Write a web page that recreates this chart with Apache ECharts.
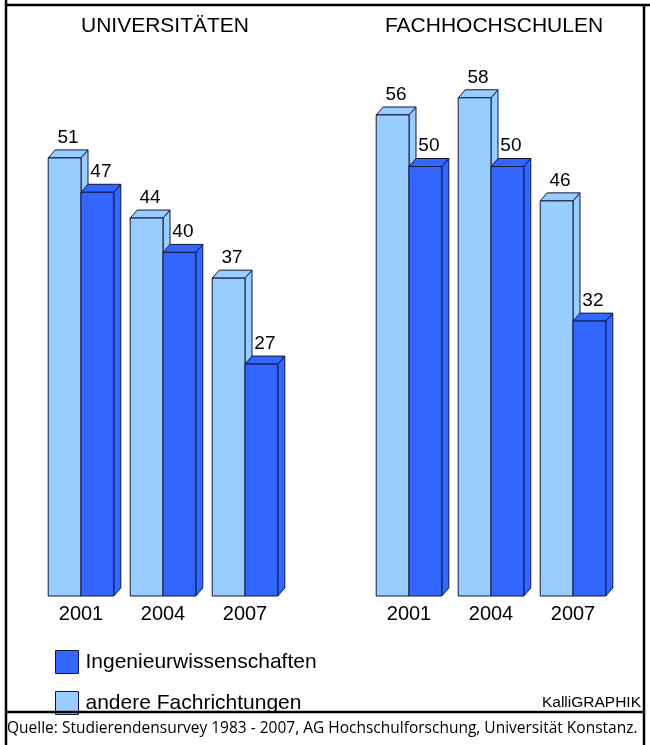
<!DOCTYPE html>
<html lang="de">
<head>
<meta charset="utf-8" />
<title>Universitäten und Fachhochschulen</title>
<script src="https://cdn.jsdelivr.net/npm/echarts@6/dist/echarts.min.js"></script>
<style>
  * { margin: 0; padding: 0; }
  html, body, #chart { width: 650px; height: 745px; overflow: hidden; background: #fff; }
</style>
</head>
<body>
<div id="chart"></div>
<script>
  var years = ["2001", "2004", "2007"];
  var groupTitles = ["UNIVERSITÄTEN", "FACHHOCHSCHULEN"];
  var uniOther = [51, 44, 37];
  var uniEng = [47, 40, 27];
  var fhOther = [56, 58, 46];
  var fhEng = [50, 50, 32];
  var seriesNames = ["Ingenieurwissenschaften", "andere Fachrichtungen"];
  var sourceText = "Quelle: Studierendensurvey 1983 - 2007, AG Hochschulforschung, Universität Konstanz.";
  var credit = "KalliGRAPHIK";

  var LIGHT = "#99ccff", DARK = "#3366ff", EDGE = "#10183a";
  var DX = 7, DY = 8;
  var FONT = '"Liberation Sans", Arial, sans-serif';

  var chart = echarts.init(document.getElementById("chart"));

  // front face + top + right side, value label above the top face
  function bar3d(side, color) {
    return function (params, api) {
      var idx = api.value(0);
      var p = api.coord([idx, api.value(1)]);
      var base = api.coord([idx, 0]);
      var w = api.size([1, 0])[0] * 0.4;
      var x0 = side < 0 ? p[0] - w : p[0];
      var x1 = x0 + w;
      var top = p[1], bot = base[1];
      var st = { fill: color, stroke: EDGE, lineWidth: 1 };
      return {
        type: "group",
        children: [
          { type: "polygon", shape: { points: [[x1, top], [x1 + DX, top - DY], [x1 + DX, bot - DY], [x1, bot]] }, style: st },
          { type: "polygon", shape: { points: [[x0, top], [x0 + DX, top - DY], [x1 + DX, top - DY], [x1, top]] }, style: st },
          { type: "rect", shape: { x: x0, y: top, width: w, height: bot - top }, style: st },
          {
            type: "text",
            x: (x0 + x1) / 2 + DX / 2,
            y: top - DY - 3,
            style: {
              text: String(api.value(1)),
              fill: "#000",
              font: "19px " + FONT,
              align: "center",
              verticalAlign: "bottom"
            }
          }
        ]
      };
    };
  }

  function makeSeries(name, data, gi, side, color, z) {
    return {
      type: "custom",
      name: name,
      xAxisIndex: gi,
      yAxisIndex: gi,
      z: z,
      clip: false,
      itemStyle: { color: color, borderColor: EDGE, borderWidth: 1 },
      renderItem: bar3d(side, color),
      encode: { x: 0, y: 1 },
      data: data.map(function (v, i) { return [i, v]; })
    };
  }

  function xAxisFor(gi) {
    return {
      type: "category",
      gridIndex: gi,
      data: years,
      axisLine: { show: false },
      axisTick: { show: false },
      axisLabel: { fontSize: 20, color: "#000", fontFamily: FONT, margin: 8 }
    };
  }

  function yAxisFor(gi) {
    return { type: "value", gridIndex: gi, min: 0, max: 60, show: false };
  }

  function hline(x1, y1, x2, y2) {
    return {
      type: "line",
      shape: { x1: x1, y1: y1, x2: x2, y2: y2 },
      style: { stroke: "#000", lineWidth: 2.5 },
      z: 10
    };
  }

  function label(x, y, text, size, align, family) {
    return {
      type: "text",
      x: x,
      y: y,
      style: {
        text: text,
        fill: "#000",
        font: size + "px " + (family || FONT),
        align: align,
        verticalAlign: "middle"
      }
    };
  }

  chart.setOption({
    animation: false,
    backgroundColor: "#fff",
    grid: [
      { left: 40, width: 246, top: 80.6, bottom: 149 },
      { left: 368, width: 246, top: 80.6, bottom: 149 }
    ],
    xAxis: [xAxisFor(0), xAxisFor(1)],
    yAxis: [yAxisFor(0), yAxisFor(1)],
    legend: {
      orient: "vertical",
      left: 55,
      top: 650,
      padding: 0,
      icon: "rect",
      itemWidth: 23,
      itemHeight: 23,
      itemGap: 17,
      data: seriesNames,
      itemStyle: { borderColor: EDGE, borderWidth: 1 },
      textStyle: { fontSize: 21, color: "#000", fontFamily: FONT, padding: [0, 0, 0, 2] }
    },
    series: [
      makeSeries(seriesNames[1], uniOther, 0, -1, LIGHT, 2),
      makeSeries(seriesNames[0], uniEng, 0, 1, DARK, 3),
      makeSeries(seriesNames[1], fhOther, 1, -1, LIGHT, 2),
      makeSeries(seriesNames[0], fhEng, 1, 1, DARK, 3)
    ],
    graphic: [
      label(165, 26, groupTitles[0], 21, "center"),
      label(494, 26, groupTitles[1], 21, "center"),
      label(641, 703, credit, 15.5, "right"),
      label(7, 729, sourceText, 15.5, "left", '"Open Sans", "Noto Sans", sans-serif'),
      hline(6, 0, 6, 745),
      hline(644, 5, 644, 745),
      hline(6, 5, 650, 5),
      hline(6, 712, 644, 712)
    ]
  });
</script>
</body>
</html>
